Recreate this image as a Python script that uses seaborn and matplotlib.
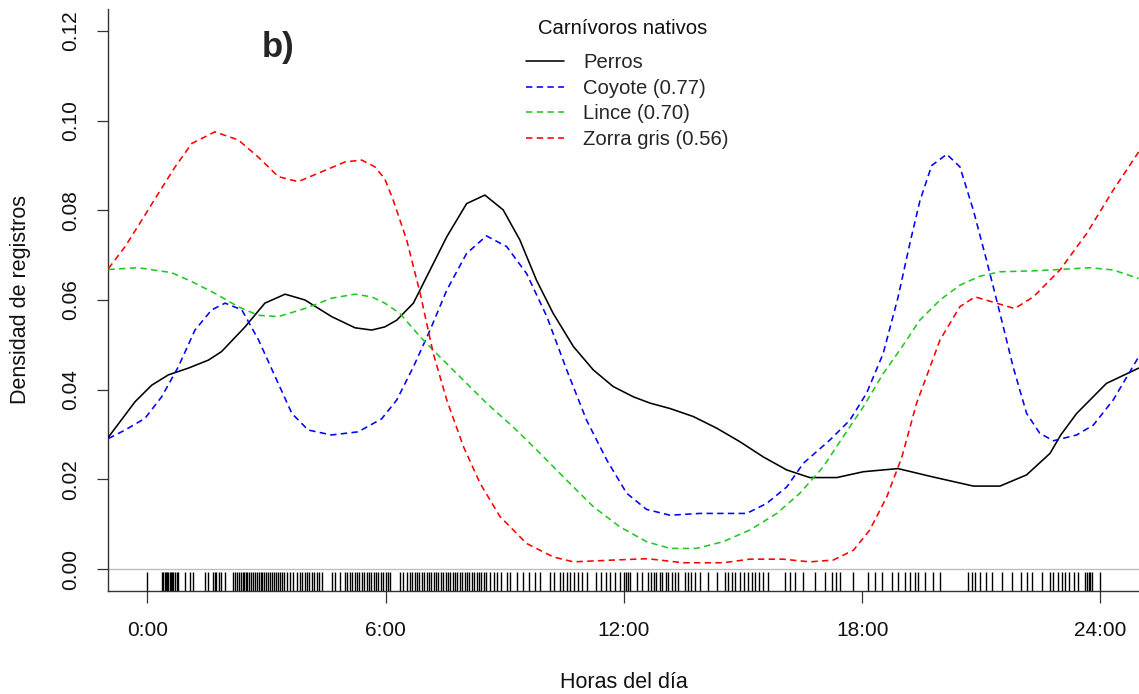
import matplotlib
matplotlib.use("Agg")
import matplotlib.pyplot as plt
from matplotlib.lines import Line2D
import seaborn as sns
import pandas as pd

# ---------------- data ----------------
perros_x = [-0.98, -0.31, 0.11, 0.53, 1.03, 1.54, 1.87, 2.46, 2.96, 3.47, 3.97, 4.64, 5.23, 5.65, 5.98,
            6.28, 6.70, 7.12, 7.54, 8.04, 8.50, 8.96, 9.38, 9.80, 10.22, 10.73, 11.23, 11.73, 12.24,
            12.66, 13.16, 13.75, 14.34, 14.92, 15.51, 16.10, 16.68, 17.36, 18.03, 18.90, 19.75, 20.80,
            21.47, 22.14, 22.73, 23.00, 23.40, 24.15, 24.96]
perros_y = [0.0294, 0.0373, 0.0410, 0.0433, 0.0448, 0.0466, 0.0485, 0.0540, 0.0593, 0.0613, 0.0600,
            0.0563, 0.0538, 0.0533, 0.0540, 0.0555, 0.0593, 0.0667, 0.0741, 0.0815, 0.0834, 0.0801,
            0.0734, 0.0644, 0.0570, 0.0496, 0.0444, 0.0407, 0.0384, 0.0370, 0.0358, 0.0340, 0.0314,
            0.0284, 0.0250, 0.0221, 0.0204, 0.0204, 0.0217, 0.0224, 0.0206, 0.0185, 0.0185, 0.0210,
            0.0258, 0.0299, 0.0347, 0.0414, 0.0448]

coyote_x = [-0.98, -0.56, -0.06, 0.36, 0.78, 1.20, 1.62, 1.96, 2.38, 2.80, 3.22, 3.64, 4.05, 4.64, 5.31,
            5.90, 6.28, 6.70, 7.12, 7.54, 8.04, 8.54, 9.05, 9.55, 10.06, 10.56, 11.06, 11.57, 12.07,
            12.57, 13.16, 13.91, 15.09, 15.59, 16.10, 16.52, 17.19, 17.69, 18.11, 18.53, 18.90, 19.20,
            19.45, 19.75, 20.13, 20.46, 20.80, 21.13, 21.47, 21.80, 22.14, 22.47, 22.81, 23.40, 23.82,
            24.32, 24.96]
coyote_y = [0.0291, 0.0310, 0.0336, 0.0384, 0.0451, 0.0533, 0.0578, 0.0593, 0.0578, 0.0511, 0.0429,
            0.0347, 0.0310, 0.0299, 0.0306, 0.0335, 0.0377, 0.0451, 0.0533, 0.0622, 0.0704, 0.0743,
            0.0719, 0.0659, 0.0563, 0.0444, 0.0332, 0.0243, 0.0169, 0.0133, 0.0120, 0.0124, 0.0124,
            0.0146, 0.0183, 0.0236, 0.0288, 0.0332, 0.0392, 0.0481, 0.0605, 0.0726, 0.0820, 0.0900,
            0.0925, 0.0897, 0.0800, 0.0689, 0.0570, 0.0451, 0.0347, 0.0303, 0.0286, 0.0299, 0.0321,
            0.0377, 0.0473]

lince_x = [-0.98, -0.23, 0.61, 1.12, 1.70, 2.29, 2.79, 3.30, 3.97, 4.64, 5.23, 5.65, 5.98, 6.36, 6.87,
           7.37, 7.96, 8.54, 9.21, 9.89, 10.56, 11.23, 11.90, 12.57, 13.16, 13.83, 14.50, 15.17, 15.85,
           16.43, 17.02, 17.52, 18.03, 18.53, 19.00, 19.45, 19.96, 20.46, 20.96, 21.47, 22.31, 22.98,
           23.73, 24.32, 24.96]
lince_y = [0.0668, 0.0672, 0.0661, 0.0641, 0.0615, 0.0585, 0.0566, 0.0563, 0.0581, 0.0604, 0.0613,
           0.0607, 0.0593, 0.0570, 0.0518, 0.0473, 0.0421, 0.0370, 0.0317, 0.0258, 0.0198, 0.0139,
           0.0094, 0.0061, 0.0046, 0.0046, 0.0061, 0.0087, 0.0124, 0.0169, 0.0228, 0.0295, 0.0362,
           0.0436, 0.0495, 0.0555, 0.0600, 0.0633, 0.0653, 0.0663, 0.0665, 0.0668, 0.0672, 0.0667,
           0.0648]

zorra_x = [-0.98, -0.56, -0.14, 0.28, 0.70, 1.12, 1.70, 2.29, 2.79, 3.30, 3.80, 4.39, 4.98, 5.40, 5.73,
           5.98, 6.19, 6.53, 6.87, 7.20, 7.54, 7.96, 8.38, 8.88, 9.55, 10.22, 10.73, 11.73, 12.60,
           13.49, 14.50, 15.17, 16.01, 16.68, 17.27, 17.78, 18.19, 18.62, 19.00, 19.37, 19.71, 19.96,
           20.46, 20.84, 21.38, 21.84, 22.31, 22.98, 23.65, 24.32, 24.96]
zorra_y = [0.0670, 0.0719, 0.0778, 0.0838, 0.0897, 0.0949, 0.0975, 0.0957, 0.0919, 0.0875, 0.0864,
           0.0886, 0.0908, 0.0912, 0.0897, 0.0870, 0.0823, 0.0734, 0.0615, 0.0481, 0.0377, 0.0273,
           0.0191, 0.0117, 0.0057, 0.0027, 0.0016, 0.0020, 0.0023, 0.0014, 0.0014, 0.0022, 0.0022,
           0.0016, 0.0020, 0.0042, 0.0087, 0.0161, 0.0250, 0.0370, 0.0451, 0.0511, 0.0585, 0.0607,
           0.0593, 0.0581, 0.0607, 0.0667, 0.0748, 0.0845, 0.0930]

# record times (hours) shown in the rug
rug_times = [0.00, 0.36, 0.40, 0.44, 0.47, 0.50, 0.53, 0.57, 0.60, 0.63, 0.65, 0.70, 0.74, 0.78, 0.95,
             1.07, 1.16, 1.45, 1.54, 1.66, 1.70, 1.74, 1.80, 1.85, 1.96,
             2.17, 2.22, 2.26, 2.30, 2.35, 2.40, 2.44, 2.48, 2.52, 2.57, 2.62, 2.66, 2.70, 2.75, 2.80,
             2.85, 2.90, 2.95, 3.00, 3.05, 3.10, 3.15, 3.20, 3.25, 3.30, 3.35, 3.40, 3.45, 3.51,
             3.59, 3.67, 3.76, 3.84, 3.90, 3.96, 4.02, 4.08, 4.14, 4.20, 4.26, 4.32, 4.39,
             4.64, 4.72, 4.85, 4.98, 5.04, 5.10, 5.16, 5.22, 5.28, 5.34, 5.40, 5.46, 5.52, 5.58, 5.64,
             5.70, 5.76, 5.82, 5.88, 5.94, 6.00, 6.05, 6.11, 6.36, 6.45, 6.53,
             6.61, 6.67, 6.73, 6.79, 6.85, 6.91, 6.97, 7.03, 7.09, 7.15, 7.21, 7.27, 7.33, 7.39, 7.45,
             7.51, 7.57, 7.63, 7.69, 7.75, 7.81, 7.87, 7.93, 7.99, 8.05, 8.11, 8.17, 8.23, 8.29, 8.35,
             8.41, 8.47, 8.54, 8.63, 8.72, 8.80, 8.90, 9.05, 9.13, 9.30, 9.45, 9.60, 9.75, 9.89,
             10.14, 10.25, 10.39, 10.47, 10.56, 10.65, 10.75, 10.85, 10.95, 11.06,
             11.31, 11.42, 11.55, 11.65, 11.78, 11.90, 12.00, 12.05, 12.10, 12.15, 12.32, 12.45,
             12.61, 12.68, 12.75, 12.82, 12.90, 12.97, 13.05, 13.12, 13.20, 13.28, 13.37,
             13.54, 13.62, 13.70, 13.80, 13.91, 14.12, 14.34, 14.54, 14.63, 14.72, 14.80, 14.92,
             15.02, 15.12, 15.22, 15.30, 15.40, 15.51, 15.63, 16.05, 16.18, 16.31, 16.52, 16.81,
             17.06, 17.23, 17.34, 17.44, 17.78, 18.15, 18.32, 18.49, 18.74, 18.91, 19.08, 19.20,
             19.33, 19.41, 19.58, 19.79, 19.96, 20.67, 20.76, 20.84, 20.96, 21.13, 21.26, 21.51,
             21.76, 22.01, 22.14, 22.27, 22.52, 22.73, 22.81, 22.94, 23.02, 23.10, 23.22, 23.33,
             23.44, 23.61, 23.65, 23.70, 23.74, 23.78, 23.99]

species = ["Perros", "Coyote", "Lince", "Zorra gris"]
legend_title = "Carnívoros nativos"
legend_labels = ["Perros", "Coyote (0.77)", "Lince (0.70)", "Zorra gris (0.56)"]
colors = ["black", "#0000FF", "#22C822", "#FF0000"]
x_ticks = [0, 6, 12, 18, 24]
x_ticklabels = ["0:00", "6:00", "12:00", "18:00", "24:00"]
y_ticks = [0.00, 0.02, 0.04, 0.06, 0.08, 0.10, 0.12]
y_ticklabels = ["0.00", "0.02", "0.04", "0.06", "0.08", "0.10", "0.12"]

series_x = [perros_x, coyote_x, lince_x, zorra_x]
series_y = [perros_y, coyote_y, lince_y, zorra_y]
df = pd.concat([pd.DataFrame({"hora": sx, "densidad": sy, "especie": sp})
                for sx, sy, sp in zip(series_x, series_y, species)], ignore_index=True)

# ---------------- plotting ----------------
sns.set_style("white")
plt.rcParams["font.family"] = ["Liberation Sans", "DejaVu Sans"]

W, H = 1139, 694
fig = plt.figure(figsize=(W / 100, H / 100), dpi=100)
ax_l, ax_r, ax_t, ax_b = 108, 1139, 9, 591
ax = fig.add_axes([ax_l / W, 1 - ax_b / H, (ax_r - ax_l) / W, (ax_b - ax_t) / H])

ax.axhline(0, color="#BEBEBE", lw=1.0, zorder=1)

lw = 1.15
dash = (4, 2.7)
palette = dict(zip(species, colors))
dashes = {"Perros": "", "Coyote": dash, "Lince": dash, "Zorra gris": dash}
sns.lineplot(data=df, x="hora", y="densidad", hue="especie", style="especie",
             palette=palette, dashes=dashes, estimator=None, sort=False,
             lw=lw, legend=False, ax=ax, zorder=3)

sns.rugplot(x=rug_times, height=0.033, color="black", lw=1.3, expand_margins=False, ax=ax)

ax.set_xlim(-0.99, 24.97)
ax.set_ylim(-0.0049, 0.1249)

ax.set_xticks(x_ticks)
ax.set_xticklabels(x_ticklabels, fontsize=15)
ax.set_yticks(y_ticks)
ax.set_yticklabels(y_ticklabels, fontsize=15, rotation=90, va="center")

for s in ["top", "right"]:
    ax.spines[s].set_visible(False)
for s in ["left", "bottom"]:
    ax.spines[s].set_color("#333333")
    ax.spines[s].set_linewidth(1.0)

ax.tick_params(axis="x", direction="out", length=8.6, width=0.9, color="#333333", pad=13,
               bottom=True, labelcolor="#111111")
ax.tick_params(axis="y", direction="out", length=8.0, width=0.9, color="#333333", pad=12,
               left=True, labelcolor="#111111")

ax.set_xlabel("Horas del día", fontsize=15.5, color="#111111")
ax.set_ylabel("Densidad de registros", fontsize=15.5, color="#111111")
ax.xaxis.set_label_coords((624 - ax_l) / (ax_r - ax_l), (ax_b - 683) / (ax_b - ax_t))
ax.xaxis.label.set_va("center")
ax.yaxis.set_label_coords((20 - ax_l) / (ax_r - ax_l), 0.5)
ax.yaxis.label.set_va("center")

fig.text(278 / W, 1 - 48 / H, "b)", fontsize=25, fontweight="bold", ha="center", va="center")

# legend (title drawn separately to match the spacing of the original)
fig.text(623 / W, 1 - 28.5 / H, legend_title, fontsize=14.6, ha="center", va="center",
         color="#111111")
handles = [Line2D([0], [0], color=c, lw=lw, linestyle="-" if sp == "Perros" else (0, dash))
           for c, sp in zip(colors, species)]
leg = ax.legend(handles, legend_labels, loc="upper left",
                bbox_to_anchor=(526 / W, 1 - 53 / H), bbox_transform=fig.transFigure,
                frameon=False, fontsize=14.6, handlelength=1.87,
                handletextpad=0.94, labelspacing=0.33, borderpad=0, borderaxespad=0)

fig.savefig("out.png", dpi=100)
